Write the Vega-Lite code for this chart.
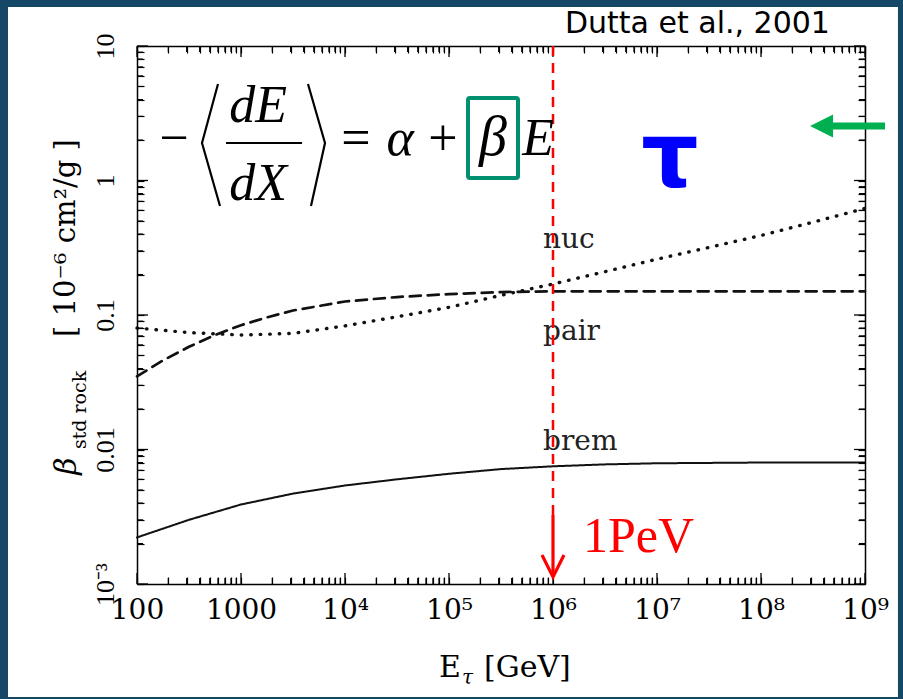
{
  "$schema": "https://vega.github.io/schema/vega-lite/v6.json",
  "width": 728,
  "height": 538,
  "autosize": "none",
  "padding": {"left": 137, "top": 46, "right": 38, "bottom": 115},
  "background": "#ffffff",
  "config": {
    "view": {"stroke": null},
    "axis": {"grid": false, "ticks": true, "domainColor": "#000000", "domainWidth": 1.5, "tickColor": "#000000", "tickWidth": 1.2, "tickSize": -7, "title": null, "labelColor": "#000000", "labelOverlap": false, "labelBound": false, "labelFlush": false}
  },
  "datasets": {
    "one": [{}],
    "xticks": [
      {"v": 100, "kind": "major"}, {"v": 200, "kind": "minor"}, {"v": 300, "kind": "minor"}, {"v": 400, "kind": "minor"}, {"v": 500, "kind": "minor"}, {"v": 600, "kind": "minor"}, {"v": 700, "kind": "minor"}, {"v": 800, "kind": "minor"}, {"v": 900, "kind": "minor"},
      {"v": 1000, "kind": "major"}, {"v": 2000, "kind": "minor"}, {"v": 3000, "kind": "minor"}, {"v": 4000, "kind": "minor"}, {"v": 5000, "kind": "minor"}, {"v": 6000, "kind": "minor"}, {"v": 7000, "kind": "minor"}, {"v": 8000, "kind": "minor"}, {"v": 9000, "kind": "minor"},
      {"v": 10000, "kind": "major"}, {"v": 20000, "kind": "minor"}, {"v": 30000, "kind": "minor"}, {"v": 40000, "kind": "minor"}, {"v": 50000, "kind": "minor"}, {"v": 60000, "kind": "minor"}, {"v": 70000, "kind": "minor"}, {"v": 80000, "kind": "minor"}, {"v": 90000, "kind": "minor"},
      {"v": 100000, "kind": "major"}, {"v": 200000, "kind": "minor"}, {"v": 300000, "kind": "minor"}, {"v": 400000, "kind": "minor"}, {"v": 500000, "kind": "minor"}, {"v": 600000, "kind": "minor"}, {"v": 700000, "kind": "minor"}, {"v": 800000, "kind": "minor"}, {"v": 900000, "kind": "minor"},
      {"v": 1000000, "kind": "major"}, {"v": 2000000, "kind": "minor"}, {"v": 3000000, "kind": "minor"}, {"v": 4000000, "kind": "minor"}, {"v": 5000000, "kind": "minor"}, {"v": 6000000, "kind": "minor"}, {"v": 7000000, "kind": "minor"}, {"v": 8000000, "kind": "minor"}, {"v": 9000000, "kind": "minor"},
      {"v": 10000000, "kind": "major"}, {"v": 20000000, "kind": "minor"}, {"v": 30000000, "kind": "minor"}, {"v": 40000000, "kind": "minor"}, {"v": 50000000, "kind": "minor"}, {"v": 60000000, "kind": "minor"}, {"v": 70000000, "kind": "minor"}, {"v": 80000000, "kind": "minor"}, {"v": 90000000, "kind": "minor"},
      {"v": 100000000, "kind": "major"}, {"v": 200000000, "kind": "minor"}, {"v": 300000000, "kind": "minor"}, {"v": 400000000, "kind": "minor"}, {"v": 500000000, "kind": "minor"}, {"v": 600000000, "kind": "minor"}, {"v": 700000000, "kind": "minor"}, {"v": 800000000, "kind": "minor"}, {"v": 900000000, "kind": "minor"},
      {"v": 1000000000, "kind": "major"}
    ],
    "yticks": [
      {"v": 0.001, "kind": "major"}, {"v": 0.002, "kind": "minor"}, {"v": 0.003, "kind": "minor"}, {"v": 0.004, "kind": "minor"}, {"v": 0.005, "kind": "minor"}, {"v": 0.006, "kind": "minor"}, {"v": 0.007, "kind": "minor"}, {"v": 0.008, "kind": "minor"}, {"v": 0.009, "kind": "minor"},
      {"v": 0.01, "kind": "major"}, {"v": 0.02, "kind": "minor"}, {"v": 0.03, "kind": "minor"}, {"v": 0.04, "kind": "minor"}, {"v": 0.05, "kind": "minor"}, {"v": 0.06, "kind": "minor"}, {"v": 0.07, "kind": "minor"}, {"v": 0.08, "kind": "minor"}, {"v": 0.09, "kind": "minor"},
      {"v": 0.1, "kind": "major"}, {"v": 0.2, "kind": "minor"}, {"v": 0.3, "kind": "minor"}, {"v": 0.4, "kind": "minor"}, {"v": 0.5, "kind": "minor"}, {"v": 0.6, "kind": "minor"}, {"v": 0.7, "kind": "minor"}, {"v": 0.8, "kind": "minor"}, {"v": 0.9, "kind": "minor"},
      {"v": 1, "kind": "major"}, {"v": 2, "kind": "minor"}, {"v": 3, "kind": "minor"}, {"v": 4, "kind": "minor"}, {"v": 5, "kind": "minor"}, {"v": 6, "kind": "minor"}, {"v": 7, "kind": "minor"}, {"v": 8, "kind": "minor"}, {"v": 9, "kind": "minor"},
      {"v": 10, "kind": "major"}
    ],
    "curves": [
      {"E": 100, "beta": 0.080, "process": "nuc"},
      {"E": 316, "beta": 0.074, "process": "nuc"},
      {"E": 1000, "beta": 0.071, "process": "nuc"},
      {"E": 3162, "beta": 0.073, "process": "nuc"},
      {"E": 10000, "beta": 0.083, "process": "nuc"},
      {"E": 31623, "beta": 0.097, "process": "nuc"},
      {"E": 100000, "beta": 0.114, "process": "nuc"},
      {"E": 316228, "beta": 0.140, "process": "nuc"},
      {"E": 1000000, "beta": 0.170, "process": "nuc"},
      {"E": 3162278, "beta": 0.210, "process": "nuc"},
      {"E": 10000000, "beta": 0.260, "process": "nuc"},
      {"E": 31622777, "beta": 0.318, "process": "nuc"},
      {"E": 100000000, "beta": 0.390, "process": "nuc"},
      {"E": 316227766, "beta": 0.490, "process": "nuc"},
      {"E": 1000000000, "beta": 0.620, "process": "nuc"},
      {"E": 100, "beta": 0.035, "process": "pair"},
      {"E": 178, "beta": 0.046, "process": "pair"},
      {"E": 316, "beta": 0.058, "process": "pair"},
      {"E": 562, "beta": 0.071, "process": "pair"},
      {"E": 1000, "beta": 0.084, "process": "pair"},
      {"E": 1778, "beta": 0.096, "process": "pair"},
      {"E": 3162, "beta": 0.108, "process": "pair"},
      {"E": 10000, "beta": 0.126, "process": "pair"},
      {"E": 31623, "beta": 0.136, "process": "pair"},
      {"E": 100000, "beta": 0.143, "process": "pair"},
      {"E": 316228, "beta": 0.148, "process": "pair"},
      {"E": 1000000, "beta": 0.150, "process": "pair"},
      {"E": 10000000, "beta": 0.150, "process": "pair"},
      {"E": 100000000, "beta": 0.150, "process": "pair"},
      {"E": 1000000000, "beta": 0.150, "process": "pair"},
      {"E": 100, "beta": 0.00222, "process": "brem"},
      {"E": 316, "beta": 0.00300, "process": "brem"},
      {"E": 1000, "beta": 0.00390, "process": "brem"},
      {"E": 3162, "beta": 0.00470, "process": "brem"},
      {"E": 10000, "beta": 0.00540, "process": "brem"},
      {"E": 31623, "beta": 0.00600, "process": "brem"},
      {"E": 100000, "beta": 0.00660, "process": "brem"},
      {"E": 316228, "beta": 0.00715, "process": "brem"},
      {"E": 1000000, "beta": 0.00750, "process": "brem"},
      {"E": 3162278, "beta": 0.00775, "process": "brem"},
      {"E": 10000000, "beta": 0.00790, "process": "brem"},
      {"E": 100000000, "beta": 0.00800, "process": "brem"},
      {"E": 1000000000, "beta": 0.00800, "process": "brem"}
    ],
    "labels": [
      {"E": 802000, "beta": 0.3148, "label": "nuc"},
      {"E": 802000, "beta": 0.0652, "label": "pair"},
      {"E": 802000, "beta": 0.00991, "label": "brem"}
    ],
    "brackets": [
      {"E": 600.9, "beta": 5.219, "side": "left", "k": 0},
      {"E": 421.7, "beta": 1.900, "side": "left", "k": 1},
      {"E": 628.1, "beta": 0.6461, "side": "left", "k": 2},
      {"E": 4406, "beta": 5.219, "side": "right", "k": 0},
      {"E": 6423, "beta": 1.900, "side": "right", "k": 1},
      {"E": 4710, "beta": 0.6461, "side": "right", "k": 2}
    ],
    "frame": [
      {"side": "left", "x1": 3.093, "x2": 5.75, "y1": 30.95, "y2": 0.0000975},
      {"side": "right", "x1": 2075000000, "x2": 3380000000, "y1": 30.95, "y2": 0.0000975},
      {"side": "top", "x1": 3.093, "x2": 3380000000, "y1": 30.95, "y2": 19.5},
      {"side": "bottom", "x1": 3.093, "x2": 3380000000, "y1": 0.0001445, "y2": 0.0000975}
    ]
  },
  "resolve": {"axis": {"x": "independent", "y": "independent"}},
  "layer": [
    {
      "data": {"name": "curves"},
      "mark": {"type": "line", "color": "#111111", "strokeCap": "round"},
      "encoding": {
        "x": {"field": "E", "type": "quantitative", "scale": {"type": "log", "domain": [100, 1000000000], "nice": false},
          "axis": {"orient": "bottom", "tickSize": -7, "values": [100,200,300,400,500,600,700,800,900,1000,2000,3000,4000,5000,6000,7000,8000,9000,10000,20000,30000,40000,50000,60000,70000,80000,90000,100000,200000,300000,400000,500000,600000,700000,800000,900000,1000000,2000000,3000000,4000000,5000000,6000000,7000000,8000000,9000000,10000000,20000000,30000000,40000000,50000000,60000000,70000000,80000000,90000000,100000000,200000000,300000000,400000000,500000000,600000000,700000000,800000000,900000000,1000000000],
            "labelExpr": "datum.value==100?'100':datum.value==1000?'1000':datum.value==10000?'10⁴':datum.value==100000?'10⁵':datum.value==1000000?'10⁶':datum.value==10000000?'10⁷':datum.value==100000000?'10⁸':datum.value==1000000000?'10⁹':''",
            "labelFont": "DejaVu Serif", "labelFontSize": 28, "labelPadding": 19, "labelAlign": "center", "labelBaseline": "top"}},
        "y": {"field": "beta", "type": "quantitative", "scale": {"type": "log", "domain": [0.001, 10], "nice": false},
          "axis": {"orient": "left", "tickSize": -7, "values": [0.001,0.002,0.003,0.004,0.005,0.006,0.007,0.008,0.009,0.01,0.02,0.03,0.04,0.05,0.06,0.07,0.08,0.09,0.1,0.2,0.3,0.4,0.5,0.6,0.7,0.8,0.9,1,2,3,4,5,6,7,8,9,10],
            "labelExpr": "datum.value==0.001?'10⁻³':datum.value==0.01?'0.01':datum.value==0.1?'0.1':datum.value==1?'1':datum.value==10?'10':''",
            "labelFont": "Liberation Serif", "labelFontSize": 26, "labelAngle": -90, "labelPadding": 26, "labelAlign": "center", "labelBaseline": "bottom"}},
        "strokeDash": {"field": "process", "type": "nominal", "scale": {"domain": ["nuc", "pair", "brem"], "range": [[0.5, 9], [11, 7], [1, 0]]}, "legend": null},
        "strokeWidth": {"field": "process", "type": "nominal", "scale": {"domain": ["nuc", "pair", "brem"], "range": [3.4, 2, 2]}, "legend": null}
      }
    },
    {
      "data": {"name": "labels"},
      "mark": {"type": "text", "font": "DejaVu Serif", "fontSize": 28, "align": "left", "baseline": "alphabetic", "color": "#222222"},
      "encoding": {
        "x": {"field": "E", "type": "quantitative", "scale": {"type": "log", "domain": [100, 1000000000], "nice": false},
          "axis": {"orient": "top", "tickSize": -7, "labels": false, "values": [100,200,300,400,500,600,700,800,900,1000,2000,3000,4000,5000,6000,7000,8000,9000,10000,20000,30000,40000,50000,60000,70000,80000,90000,100000,200000,300000,400000,500000,600000,700000,800000,900000,1000000,2000000,3000000,4000000,5000000,6000000,7000000,8000000,9000000,10000000,20000000,30000000,40000000,50000000,60000000,70000000,80000000,90000000,100000000,200000000,300000000,400000000,500000000,600000000,700000000,800000000,900000000,1000000000]}},
        "y": {"field": "beta", "type": "quantitative", "scale": {"type": "log", "domain": [0.001, 10], "nice": false},
          "axis": {"orient": "right", "tickSize": -7, "labels": false, "values": [0.001,0.002,0.003,0.004,0.005,0.006,0.007,0.008,0.009,0.01,0.02,0.03,0.04,0.05,0.06,0.07,0.08,0.09,0.1,0.2,0.3,0.4,0.5,0.6,0.7,0.8,0.9,1,2,3,4,5,6,7,8,9,10]}},
        "text": {"field": "label", "type": "nominal"}
      }
    },
    {
      "data": {"name": "xticks"},
      "transform": [{"filter": "datum.kind == 'major'"}],
      "mark": {"type": "rule", "color": "#000000", "strokeWidth": 1.3, "y2Offset": -11},
      "encoding": {
        "x": {"field": "v", "type": "quantitative", "scale": {"type": "log", "domain": [100, 1000000000], "nice": false}, "axis": null},
        "y": {"datum": 0.001, "type": "quantitative", "scale": {"type": "log", "domain": [0.001, 10], "nice": false}, "axis": null},
        "y2": {"datum": 0.001}
      }
    },
    {
      "data": {"name": "xticks"},
      "transform": [{"filter": "datum.kind == 'minor'"}],
      "mark": {"type": "rule", "color": "#000000", "strokeWidth": 1.1, "y2Offset": -6},
      "encoding": {
        "x": {"field": "v", "type": "quantitative", "scale": {"type": "log", "domain": [100, 1000000000], "nice": false}, "axis": null},
        "y": {"datum": 0.001, "type": "quantitative", "scale": {"type": "log", "domain": [0.001, 10], "nice": false}, "axis": null},
        "y2": {"datum": 0.001}
      }
    },
    {
      "data": {"name": "xticks"},
      "transform": [{"filter": "datum.kind == 'major'"}],
      "mark": {"type": "rule", "color": "#000000", "strokeWidth": 1.3, "y2Offset": 11},
      "encoding": {
        "x": {"field": "v", "type": "quantitative", "scale": {"type": "log", "domain": [100, 1000000000], "nice": false}, "axis": null},
        "y": {"datum": 10, "type": "quantitative", "scale": {"type": "log", "domain": [0.001, 10], "nice": false}, "axis": null},
        "y2": {"datum": 10}
      }
    },
    {
      "data": {"name": "xticks"},
      "transform": [{"filter": "datum.kind == 'minor'"}],
      "mark": {"type": "rule", "color": "#000000", "strokeWidth": 1.1, "y2Offset": 6},
      "encoding": {
        "x": {"field": "v", "type": "quantitative", "scale": {"type": "log", "domain": [100, 1000000000], "nice": false}, "axis": null},
        "y": {"datum": 10, "type": "quantitative", "scale": {"type": "log", "domain": [0.001, 10], "nice": false}, "axis": null},
        "y2": {"datum": 10}
      }
    },
    {
      "data": {"name": "yticks"},
      "transform": [{"filter": "datum.kind == 'major'"}],
      "mark": {"type": "rule", "color": "#000000", "strokeWidth": 1.3, "x2Offset": 11},
      "encoding": {
        "x": {"datum": 100, "type": "quantitative", "scale": {"type": "log", "domain": [100, 1000000000], "nice": false}, "axis": null},
        "x2": {"datum": 100},
        "y": {"field": "v", "type": "quantitative", "scale": {"type": "log", "domain": [0.001, 10], "nice": false}, "axis": null}
      }
    },
    {
      "data": {"name": "yticks"},
      "transform": [{"filter": "datum.kind == 'minor'"}],
      "mark": {"type": "rule", "color": "#000000", "strokeWidth": 1.1, "x2Offset": 6},
      "encoding": {
        "x": {"datum": 100, "type": "quantitative", "scale": {"type": "log", "domain": [100, 1000000000], "nice": false}, "axis": null},
        "x2": {"datum": 100},
        "y": {"field": "v", "type": "quantitative", "scale": {"type": "log", "domain": [0.001, 10], "nice": false}, "axis": null}
      }
    },
    {
      "data": {"name": "yticks"},
      "transform": [{"filter": "datum.kind == 'major'"}],
      "mark": {"type": "rule", "color": "#000000", "strokeWidth": 1.3, "x2Offset": -11},
      "encoding": {
        "x": {"datum": 1000000000, "type": "quantitative", "scale": {"type": "log", "domain": [100, 1000000000], "nice": false}, "axis": null},
        "x2": {"datum": 1000000000},
        "y": {"field": "v", "type": "quantitative", "scale": {"type": "log", "domain": [0.001, 10], "nice": false}, "axis": null}
      }
    },
    {
      "data": {"name": "yticks"},
      "transform": [{"filter": "datum.kind == 'minor'"}],
      "mark": {"type": "rule", "color": "#000000", "strokeWidth": 1.1, "x2Offset": -6},
      "encoding": {
        "x": {"datum": 1000000000, "type": "quantitative", "scale": {"type": "log", "domain": [100, 1000000000], "nice": false}, "axis": null},
        "x2": {"datum": 1000000000},
        "y": {"field": "v", "type": "quantitative", "scale": {"type": "log", "domain": [0.001, 10], "nice": false}, "axis": null}
      }
    },
    {
      "data": {"name": "one"},
      "mark": {"type": "rule", "color": "#ff0000", "strokeWidth": 2.5, "strokeDash": [10, 7]},
      "encoding": {
        "x": {"datum": 1000000, "type": "quantitative", "scale": {"type": "log", "domain": [100, 1000000000], "nice": false}, "axis": null},
        "y": {"datum": 10, "type": "quantitative", "scale": {"type": "log", "domain": [0.001, 10], "nice": false}, "axis": null},
        "y2": {"datum": 0.003258}
      }
    },
    {
      "data": {"name": "one"},
      "mark": {"type": "rule", "color": "#ff0000", "strokeWidth": 3.2},
      "encoding": {
        "x": {"datum": 1000000, "type": "quantitative", "scale": {"type": "log", "domain": [100, 1000000000], "nice": false}, "axis": null},
        "y": {"datum": 0.003258, "type": "quantitative", "scale": {"type": "log", "domain": [0.001, 10], "nice": false}, "axis": null},
        "y2": {"datum": 0.00117}
      }
    },
    {
      "data": {"name": "one"},
      "mark": {"type": "point", "shape": "M-1,-1L0,1L1,-1", "filled": false, "stroke": "#ff0000", "strokeWidth": 3.2, "size": 484, "opacity": 1},
      "encoding": {
        "x": {"datum": 1000000, "type": "quantitative", "scale": {"type": "log", "domain": [100, 1000000000], "nice": false}, "axis": null},
        "y": {"datum": 0.001361, "type": "quantitative", "scale": {"type": "log", "domain": [0.001, 10], "nice": false}, "axis": null}
      }
    },
    {
      "data": {"name": "one"},
      "mark": {"type": "text", "text": "1PeV", "font": "Liberation Serif", "fontSize": 50, "align": "left", "baseline": "alphabetic", "color": "#ff0000"},
      "encoding": {
        "x": {"datum": 1941000, "type": "quantitative", "scale": {"type": "log", "domain": [100, 1000000000], "nice": false}, "axis": null},
        "y": {"datum": 0.00173, "type": "quantitative", "scale": {"type": "log", "domain": [0.001, 10], "nice": false}, "axis": null}
      }
    },
    {
      "data": {"name": "one"},
      "mark": {"type": "text", "text": "Dutta et al., 2001", "font": "DejaVu Sans", "fontSize": 30, "align": "right", "baseline": "alphabetic", "color": "#000000"},
      "encoding": {
        "x": {"datum": 460000000, "type": "quantitative", "scale": {"type": "log", "domain": [100, 1000000000], "nice": false}, "axis": null},
        "y": {"datum": 12.5, "type": "quantitative", "scale": {"type": "log", "domain": [0.001, 10], "nice": false}, "axis": null}
      }
    },
    {
      "data": {"name": "one"},
      "mark": {"type": "text", "text": "−", "font": "Liberation Serif", "fontSize": 52, "align": "center", "baseline": "alphabetic", "color": "#000000"},
      "encoding": {
        "x": {"datum": 227, "type": "quantitative", "scale": {"type": "log", "domain": [100, 1000000000], "nice": false}, "axis": null},
        "y": {"datum": 1.548, "type": "quantitative", "scale": {"type": "log", "domain": [0.001, 10], "nice": false}, "axis": null}
      }
    },
    {
      "data": {"name": "one"},
      "mark": {"type": "text", "text": "dE", "font": "Liberation Serif", "fontStyle": "italic", "fontSize": 52, "align": "center", "baseline": "alphabetic", "color": "#000000"},
      "encoding": {
        "x": {"datum": 1457.5, "type": "quantitative", "scale": {"type": "log", "domain": [100, 1000000000], "nice": false}, "axis": null},
        "y": {"datum": 2.723, "type": "quantitative", "scale": {"type": "log", "domain": [0.001, 10], "nice": false}, "axis": null}
      }
    },
    {
      "data": {"name": "one"},
      "mark": {"type": "text", "text": "dX", "font": "Liberation Serif", "fontStyle": "italic", "fontSize": 52, "align": "center", "baseline": "alphabetic", "color": "#000000"},
      "encoding": {
        "x": {"datum": 1457.5, "type": "quantitative", "scale": {"type": "log", "domain": [100, 1000000000], "nice": false}, "axis": null},
        "y": {"datum": 0.7161, "type": "quantitative", "scale": {"type": "log", "domain": [0.001, 10], "nice": false}, "axis": null}
      }
    },
    {
      "data": {"name": "one"},
      "mark": {"type": "rule", "color": "#000000", "strokeWidth": 2.2},
      "encoding": {
        "x": {"datum": 717.8, "type": "quantitative", "scale": {"type": "log", "domain": [100, 1000000000], "nice": false}, "axis": null},
        "x2": {"datum": 3864},
        "y": {"datum": 1.9, "type": "quantitative", "scale": {"type": "log", "domain": [0.001, 10], "nice": false}, "axis": null}
      }
    },
    {
      "data": {"name": "brackets"},
      "mark": {"type": "line", "color": "#000000", "strokeWidth": 2.2},
      "encoding": {
        "x": {"field": "E", "type": "quantitative", "scale": {"type": "log", "domain": [100, 1000000000], "nice": false}, "axis": null},
        "y": {"field": "beta", "type": "quantitative", "scale": {"type": "log", "domain": [0.001, 10], "nice": false}, "axis": null},
        "detail": {"field": "side", "type": "nominal"},
        "order": {"field": "k", "type": "quantitative"}
      }
    },
    {
      "data": {"name": "one"},
      "mark": {"type": "text", "text": "=", "font": "Liberation Serif", "fontSize": 52, "align": "center", "baseline": "alphabetic", "color": "#000000"},
      "encoding": {
        "x": {"datum": 12764, "type": "quantitative", "scale": {"type": "log", "domain": [100, 1000000000], "nice": false}, "axis": null},
        "y": {"datum": 1.548, "type": "quantitative", "scale": {"type": "log", "domain": [0.001, 10], "nice": false}, "axis": null}
      }
    },
    {
      "data": {"name": "one"},
      "mark": {"type": "text", "text": "α", "font": "Liberation Serif", "fontStyle": "italic", "fontSize": 52, "align": "center", "baseline": "alphabetic", "color": "#000000"},
      "encoding": {
        "x": {"datum": 33818, "type": "quantitative", "scale": {"type": "log", "domain": [100, 1000000000], "nice": false}, "axis": null},
        "y": {"datum": 1.548, "type": "quantitative", "scale": {"type": "log", "domain": [0.001, 10], "nice": false}, "axis": null}
      }
    },
    {
      "data": {"name": "one"},
      "mark": {"type": "text", "text": "+", "font": "Liberation Serif", "fontSize": 52, "align": "center", "baseline": "alphabetic", "color": "#000000"},
      "encoding": {
        "x": {"datum": 87503, "type": "quantitative", "scale": {"type": "log", "domain": [100, 1000000000], "nice": false}, "axis": null},
        "y": {"datum": 1.548, "type": "quantitative", "scale": {"type": "log", "domain": [0.001, 10], "nice": false}, "axis": null}
      }
    },
    {
      "data": {"name": "one"},
      "mark": {"type": "text", "text": "β", "font": "Liberation Serif", "fontStyle": "italic", "fontSize": 56, "align": "center", "baseline": "alphabetic", "color": "#000000"},
      "encoding": {
        "x": {"datum": 264900, "type": "quantitative", "scale": {"type": "log", "domain": [100, 1000000000], "nice": false}, "axis": null},
        "y": {"datum": 1.548, "type": "quantitative", "scale": {"type": "log", "domain": [0.001, 10], "nice": false}, "axis": null}
      }
    },
    {
      "data": {"name": "one"},
      "mark": {"type": "text", "text": "E", "font": "Liberation Serif", "fontStyle": "italic", "fontSize": 52, "align": "center", "baseline": "alphabetic", "color": "#000000"},
      "encoding": {
        "x": {"datum": 720000, "type": "quantitative", "scale": {"type": "log", "domain": [100, 1000000000], "nice": false}, "axis": null},
        "y": {"datum": 1.548, "type": "quantitative", "scale": {"type": "log", "domain": [0.001, 10], "nice": false}, "axis": null}
      }
    },
    {
      "data": {"name": "one"},
      "mark": {"type": "rect", "fill": "transparent", "stroke": "#00906f", "strokeWidth": 4, "cornerRadius": 2},
      "encoding": {
        "x": {"datum": 152300, "type": "quantitative", "scale": {"type": "log", "domain": [100, 1000000000], "nice": false}, "axis": null},
        "x2": {"datum": 460800},
        "y": {"datum": 4.106, "type": "quantitative", "scale": {"type": "log", "domain": [0.001, 10], "nice": false}, "axis": null},
        "y2": {"datum": 1.0437}
      }
    },
    {
      "data": {"name": "one"},
      "mark": {"type": "text", "text": "τ", "font": "DejaVu Sans", "fontWeight": "bold", "fontSize": 90, "align": "center", "baseline": "alphabetic", "color": "#0000ff"},
      "encoding": {
        "x": {"datum": 13340000, "type": "quantitative", "scale": {"type": "log", "domain": [100, 1000000000], "nice": false}, "axis": null},
        "y": {"datum": 0.8948, "type": "quantitative", "scale": {"type": "log", "domain": [0.001, 10], "nice": false}, "axis": null}
      }
    },
    {
      "data": {"name": "one"},
      "mark": {"type": "rule", "color": "#00b050", "strokeWidth": 7},
      "encoding": {
        "x": {"datum": 440600000, "type": "quantitative", "scale": {"type": "log", "domain": [100, 1000000000], "nice": false}, "axis": null},
        "x2": {"datum": 1557000000},
        "y": {"datum": 2.542, "type": "quantitative", "scale": {"type": "log", "domain": [0.001, 10], "nice": false}, "axis": null}
      }
    },
    {
      "data": {"name": "one"},
      "mark": {"type": "point", "shape": "M-1,0L1,-1L1,1Z", "filled": true, "color": "#00b050", "size": 529, "opacity": 1},
      "encoding": {
        "x": {"datum": 382000000, "type": "quantitative", "scale": {"type": "log", "domain": [100, 1000000000], "nice": false}, "axis": null},
        "y": {"datum": 2.542, "type": "quantitative", "scale": {"type": "log", "domain": [0.001, 10], "nice": false}, "axis": null}
      }
    },
    {
      "data": {"name": "one"},
      "mark": {"type": "text", "text": "[ 10⁻⁶ cm²/g ]", "font": "DejaVu Serif", "fontSize": 29, "align": "center", "baseline": "middle", "angle": 270, "color": "#000000"},
      "encoding": {
        "x": {"datum": 20.7, "type": "quantitative", "scale": {"type": "log", "domain": [100, 1000000000], "nice": false}, "axis": null},
        "y": {"datum": 0.3737, "type": "quantitative", "scale": {"type": "log", "domain": [0.001, 10], "nice": false}, "axis": null}
      }
    },
    {
      "data": {"name": "one"},
      "mark": {"type": "text", "text": "std rock", "font": "DejaVu Serif", "fontSize": 19, "align": "center", "baseline": "middle", "angle": 270, "color": "#000000"},
      "encoding": {
        "x": {"datum": 28.3, "type": "quantitative", "scale": {"type": "log", "domain": [100, 1000000000], "nice": false}, "axis": null},
        "y": {"datum": 0.01967, "type": "quantitative", "scale": {"type": "log", "domain": [0.001, 10], "nice": false}, "axis": null}
      }
    },
    {
      "data": {"name": "one"},
      "mark": {"type": "text", "text": "β", "font": "DejaVu Serif", "fontStyle": "italic", "fontSize": 30, "align": "center", "baseline": "middle", "angle": 270, "color": "#000000"},
      "encoding": {
        "x": {"datum": 21.2, "type": "quantitative", "scale": {"type": "log", "domain": [100, 1000000000], "nice": false}, "axis": null},
        "y": {"datum": 0.00753, "type": "quantitative", "scale": {"type": "log", "domain": [0.001, 10], "nice": false}, "axis": null}
      }
    },
    {
      "data": {"name": "one"},
      "mark": {"type": "text", "text": "E", "font": "DejaVu Serif", "fontSize": 30, "align": "center", "baseline": "alphabetic", "color": "#000000"},
      "encoding": {
        "x": {"datum": 102200, "type": "quantitative", "scale": {"type": "log", "domain": [100, 1000000000], "nice": false}, "axis": null},
        "y": {"datum": 0.000204, "type": "quantitative", "scale": {"type": "log", "domain": [0.001, 10], "nice": false}, "axis": null}
      }
    },
    {
      "data": {"name": "one"},
      "mark": {"type": "text", "text": "τ", "font": "DejaVu Serif", "fontStyle": "italic", "fontSize": 20, "align": "left", "baseline": "alphabetic", "color": "#000000"},
      "encoding": {
        "x": {"datum": 133400, "type": "quantitative", "scale": {"type": "log", "domain": [100, 1000000000], "nice": false}, "axis": null},
        "y": {"datum": 0.000181, "type": "quantitative", "scale": {"type": "log", "domain": [0.001, 10], "nice": false}, "axis": null}
      }
    },
    {
      "data": {"name": "one"},
      "mark": {"type": "text", "text": "[GeV]", "font": "DejaVu Serif", "fontSize": 30, "align": "left", "baseline": "alphabetic", "color": "#000000"},
      "encoding": {
        "x": {"datum": 217000, "type": "quantitative", "scale": {"type": "log", "domain": [100, 1000000000], "nice": false}, "axis": null},
        "y": {"datum": 0.000204, "type": "quantitative", "scale": {"type": "log", "domain": [0.001, 10], "nice": false}, "axis": null}
      }
    },
    {
      "data": {"name": "frame"},
      "mark": {"type": "rect", "fill": "#154866"},
      "encoding": {
        "x": {"field": "x1", "type": "quantitative", "scale": {"type": "log", "domain": [100, 1000000000], "nice": false}, "axis": null},
        "x2": {"field": "x2"},
        "y": {"field": "y1", "type": "quantitative", "scale": {"type": "log", "domain": [0.001, 10], "nice": false}, "axis": null},
        "y2": {"field": "y2"},
        "detail": {"field": "side", "type": "nominal"}
      }
    }
  ]
}
